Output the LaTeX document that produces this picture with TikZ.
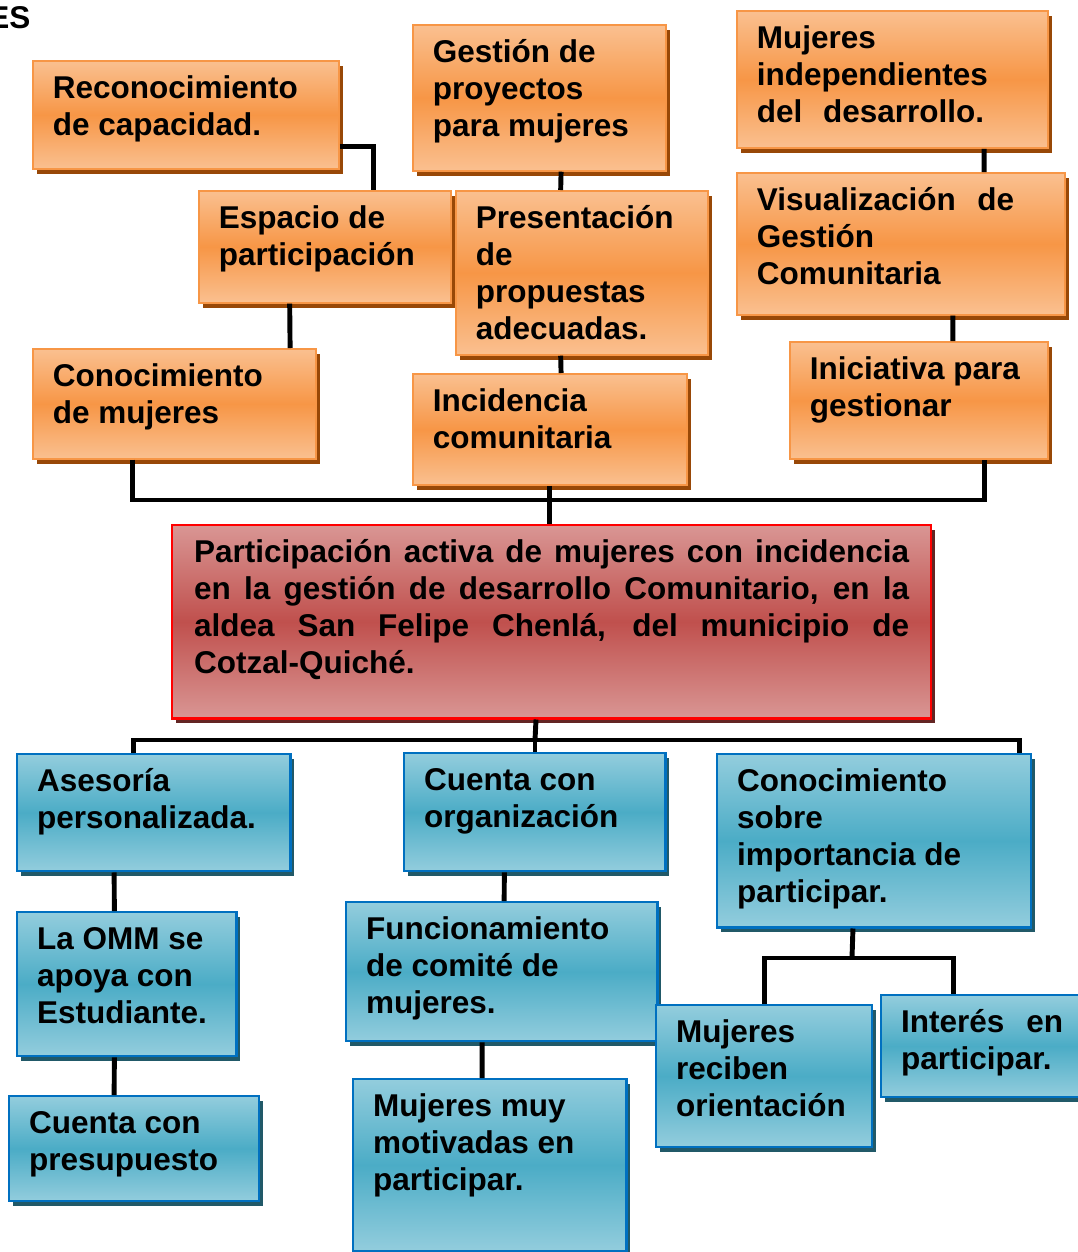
\documentclass[tikz,border=0pt]{standalone}
\usepackage{fontspec}
\setmainfont{Liberation Sans}
\usetikzlibrary{shadows}

\definecolor{otop}{HTML}{FAC090}
\definecolor{omid}{HTML}{F79646}
\definecolor{oline}{HTML}{F79646}
\definecolor{oshade}{HTML}{984807}
\definecolor{btop}{HTML}{93CDDD}
\definecolor{bmid}{HTML}{4BACC6}
\definecolor{bline}{HTML}{0070C0}
\definecolor{bshade}{HTML}{215968}
\definecolor{rtop}{HTML}{D99694}
\definecolor{rmid}{HTML}{C0504D}
\definecolor{rline}{HTML}{FF0000}
\definecolor{rshade}{HTML}{632523}

% text block of a box: width, height, text (set from the top)
\newcommand{\boxtext}[3]{\begin{minipage}[t][#2][t]{#1}\raggedright\strut#3\end{minipage}}

\begin{document}
\begin{tikzpicture}[
        x=0.025cm, y=-0.025cm, % one unit = one pixel of the page
        every node/.style={font=\fontsize{22.4}{26.3}\selectfont\bfseries, anchor=north west, inner xsep=0.5cm, inner ysep=0.29cm},
        obox/.style={draw=oline, line width=1.2pt, top color=otop, bottom color=otop, middle color=omid, drop shadow={opacity=1, fill=oshade, shadow xshift=0.1cm, shadow yshift=-0.12cm}},
        bbox/.style={draw=bline, line width=1.6pt, top color=btop, bottom color=btop, middle color=bmid, drop shadow={opacity=1, fill=bshade, shadow xshift=0.1cm, shadow yshift=-0.12cm}},
        rbox/.style={draw=rline, line width=1.6pt, top color=rtop, bottom color=rtop, middle color=rmid, drop shadow={opacity=1, fill=rshade, shadow xshift=0.1cm, shadow yshift=-0.12cm}},
        link/.style={draw, line width=3.5pt}
    ]
    \useasboundingbox (0,0) rectangle (1078,1252);
    \node[anchor=base west, inner sep=0pt] (cut) at (-12,28) {ES};

    % Upper boxes
    \node[obox] (recon) at (32,60) {\boxtext{6.65cm}{2.12cm}{Reconocimiento\\de capacidad.}};
    \node[obox] (gestion) at (412,24) {\boxtext{5.33cm}{3.07cm}{Gestión de\\proyectos\\para mujeres}};
    \node[obox] (indep) at (736,10) {\boxtext{6.78cm}{2.85cm}{Mujeres\\independientes\\\makebox[5.68cm][s]{del desarrollo.}}};
    \node[obox] (espacio) at (198,190) {\boxtext{5.3cm}{2.22cm}{Espacio de\\participación}};
    \node[obox] (present) at (455,190) {\boxtext{5.3cm}{3.52cm}{Presentación\\de\\propuestas\\adecuadas.}};
    \node[obox] (visual) at (736,172) {\boxtext{7.2cm}{2.97cm}{\makebox[6.43cm][s]{Visualización de}\\Gestión\\Comunitaria}};
    \node[obox] (conocm) at (32,348) {\boxtext{6.08cm}{2.17cm}{Conocimiento\\de mujeres}};
    \node[obox] (incid) at (412,373) {\boxtext{5.85cm}{2.2cm}{Incidencia\\comunitaria}};
    \node[obox] (inic) at (789,341) {\boxtext{5.45cm}{2.35cm}{Iniciativa para\\gestionar}};

    % Central problem
    \node[rbox, inner xsep=0.55cm] (central) at (171,524) {\boxtext{17.87cm}{4.25cm}{%
        \makebox[17.87cm][s]{Participación activa de mujeres con incidencia}\\
        \makebox[17.87cm][s]{en la gestión de desarrollo Comunitario, en la}\\
        \makebox[17.87cm][s]{aldea San Felipe Chenlá, del municipio de}\\
        Cotzal-Quiché.}};

    % Lower boxes
    \node[bbox] (ases) at (16,753) {\boxtext{5.83cm}{2.35cm}{Asesoría\\personalizada.}};
    \node[bbox] (cuenta) at (403,752) {\boxtext{5.53cm}{2.37cm}{Cuenta con\\organización}};
    \node[bbox] (conocs) at (716,753) {\boxtext{6.85cm}{3.75cm}{Conocimiento\\sobre\\importancia de\\participar.}};
    \node[bbox] (omm) at (16,911) {\boxtext{4.48cm}{3.02cm}{La OMM se\\apoya con\\Estudiante.}};
    \node[bbox] (funcion) at (345,901) {\boxtext{6.78cm}{2.9cm}{Funcionamiento\\de comité de\\mujeres.}};
    \node[bbox] (recib) at (655,1004) {\boxtext{4.4cm}{2.97cm}{Mujeres\\reciben\\orientación}};
    \node[bbox] (interes) at (880,994) {\boxtext{4.13cm}{1.97cm}{\makebox[4.05cm][s]{Interés en}\\participar.}};
    \node[bbox] (presup) at (8,1095) {\boxtext{5.25cm}{2.05cm}{Cuenta con\\presupuesto}};
    \node[bbox] (motiv) at (352,1078) {\boxtext{5.83cm}{3.72cm}{Mujeres muy\\motivadas en\\participar.}};

    % Connectors above
    \coordinate (topbus) at (547,500);
    \draw[link] ([yshift=-0.78cm]recon.east) -| ([xshift=1.22cm]espacio.north);
    \draw[link] ([xshift=0.54cm]gestion.south) -- ([xshift=-0.53cm]present.north);
    \draw[link] ([xshift=2.29cm]indep.south) -- ([xshift=2.08cm]visual.north);
    \draw[link] ([xshift=-0.88cm]espacio.south) -- ([xshift=2.89cm]conocm.north);
    \draw[link] ([xshift=-0.53cm]present.south) -- ([xshift=0.28cm]incid.north);
    \draw[link] ([xshift=1.3cm]visual.south) -- ([xshift=0.85cm]inic.north);
    \draw[link] ([xshift=-1.04cm]conocm.south) |- (topbus) -| ([xshift=1.63cm]inic.south);
    \draw[link] (incid.south) -- (incid.south |- central.north);

    % Connectors below
    \coordinate (botbus) at (535,740);
    \coordinate (splitbus) at (852,958);
    \draw[link] ([xshift=-0.39cm]central.south) -- (botbus);
    \draw[link] ([xshift=-0.51cm]ases.north) |- (botbus) -| ([xshift=3.63cm]conocs.north);
    \draw[link] (botbus) -- (botbus |- cuenta.north);
    \draw[link] ([xshift=-0.99cm]ases.south) -- ([xshift=-0.31cm]omm.north);
    \draw[link] ([xshift=-0.31cm]omm.south) -- ([xshift=-0.5cm]presup.north);
    \draw[link] ([xshift=-0.76cm]cuenta.south) -- ([xshift=0.06cm]funcion.north);
    \draw[link] ([xshift=-0.49cm]funcion.south) -- ([xshift=-0.19cm]motiv.north);
    \draw[link] ([xshift=-0.53cm]conocs.south) -- (splitbus);
    \draw[link] (recib.north) |- (splitbus) -| ([xshift=-0.76cm]interes.north);
\end{tikzpicture}
\end{document}
